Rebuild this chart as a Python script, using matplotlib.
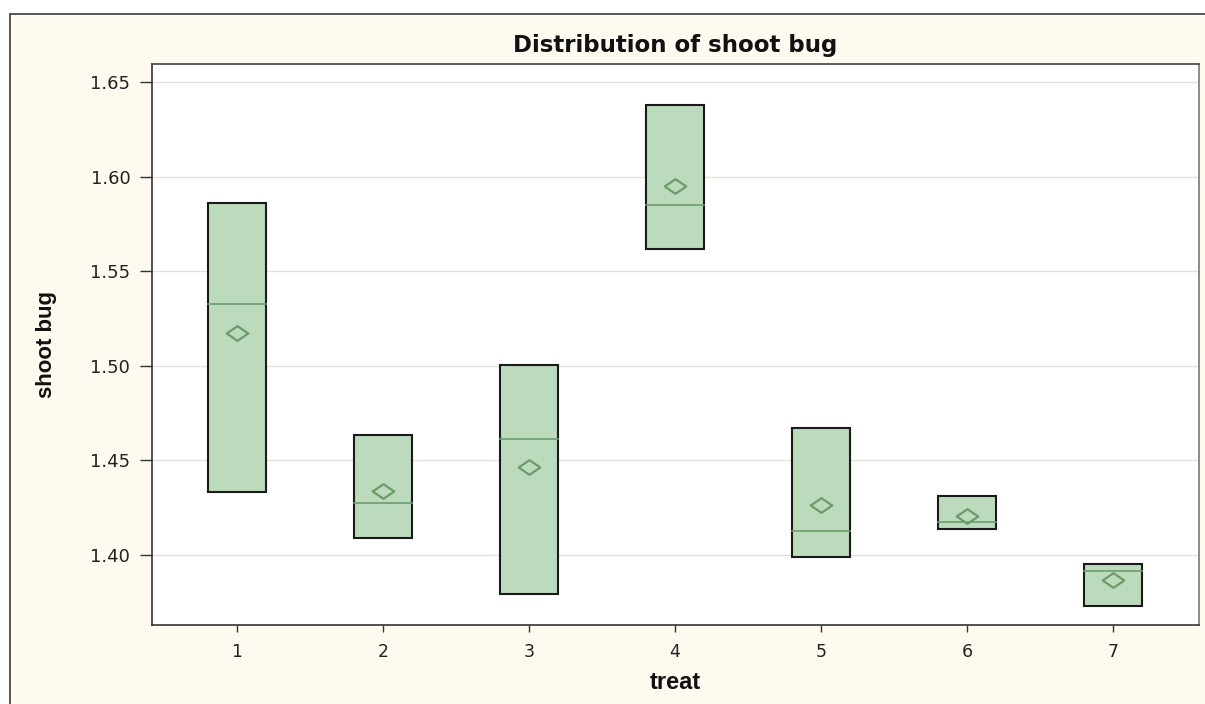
import matplotlib
matplotlib.use("Agg")
import matplotlib.pyplot as plt
from matplotlib.patches import Rectangle
from matplotlib.path import Path
from matplotlib import font_manager

# Summary statistics of shoot bug by treatment
treat = [1, 2, 3, 4, 5, 6, 7]
q1 = [1.4335, 1.409, 1.3792, 1.5619, 1.3988, 1.4138, 1.373]
q3 = [1.586, 1.4634, 1.5004, 1.638, 1.4673, 1.4313, 1.3953]
median = [1.5327, 1.4277, 1.4613, 1.5852, 1.4128, 1.4173, 1.3914]
mean = [1.5175, 1.434, 1.4467, 1.5952, 1.4264, 1.4206, 1.3868]
yticks = [1.40, 1.45, 1.50, 1.55, 1.60, 1.65]

W, H, DPI = 1205, 704, 100
fig = plt.figure(figsize=(W / DPI, H / DPI), dpi=DPI, facecolor="white")

# outer panel
panel = Rectangle((10 / W, -0.01), 1.02, 1 - 14 / H + 0.01, transform=fig.transFigure,
                  facecolor="#FFFAF0", edgecolor="#3a3a3a", linewidth=1.2, zorder=-10)
fig.patches.append(panel)

ax = fig.add_axes([152 / W, 1 - 625 / H, (1199 - 152) / W, (625 - 64) / H], zorder=1)
ax.set_facecolor("white")
ax.set_xlim(0.418, 7.589)
ax.set_ylim(1.363, 1.6595)

for s in ax.spines.values():
    s.set_color("#333333")
    s.set_linewidth(1.2)
ax.spines["right"].set_color("#777777")
ax.spines["top"].set_color("#444444")

ax.set_yticks(yticks)
ax.set_yticklabels([f"{v:.2f}" for v in yticks])
ax.set_xticks(treat)
ax.set_xticklabels([str(t) for t in treat])
ax.grid(axis="y", color="#E4E1DA", linewidth=1.0, zorder=0)
ax.set_axisbelow(True)

ax.tick_params(axis="y", direction="out", length=8.6, width=1.0, pad=7,
               labelsize=13, color="#333333", labelcolor="#222222")
ax.tick_params(axis="x", direction="out", length=5, width=1.0, pad=8,
               labelsize=12.5, color="#333333", labelcolor="#222222")

box_w = 0.40
fill = "#BCDBBC"
for x, lo, hi, md in zip(treat, q1, q3, median):
    ax.add_patch(Rectangle((x - box_w / 2, lo), box_w, hi - lo, facecolor=fill,
                           edgecolor="#1a1a1a", linewidth=1.5, zorder=3))
    ax.plot([x - box_w / 2, x + box_w / 2], [md, md], color="#6E9E6E",
            linewidth=1.2, zorder=4)

diamond = Path([(-1, 0), (0, 0.68), (1, 0), (0, -0.68), (-1, 0)],
               [Path.MOVETO, Path.LINETO, Path.LINETO, Path.LINETO, Path.CLOSEPOLY])
ax.plot(treat, mean, linestyle="none", marker=diamond, markersize=15.5,
        markerfacecolor="none", markeredgecolor="#6A9C6A", markeredgewidth=1.6, zorder=5)

ax.set_title("Distribution of shoot bug", fontsize=16.5, fontweight="bold",
             family=["DejaVu Sans"], color="#111111", y=1.0214, va="baseline", pad=0)

names = {f.name for f in font_manager.fontManager.ttflist}
narrow = "Liberation Sans Narrow" if "Liberation Sans Narrow" in names else "Liberation Sans"
ax.set_ylabel("shoot bug", fontsize=16, fontweight="bold", family=[narrow, "DejaVu Sans"],
              color="#111111")
ax.yaxis.set_label_coords(-0.101, 0.5)
ax.yaxis.label.set_va("center")
ax.set_xlabel("treat", fontsize=17, fontweight="bold", family=["Liberation Sans", "DejaVu Sans"],
              color="#111111")
ax.xaxis.set_label_coords(0.5, -0.103)
ax.xaxis.label.set_va("center")

fig.savefig("out.png", dpi=DPI, facecolor="white")
